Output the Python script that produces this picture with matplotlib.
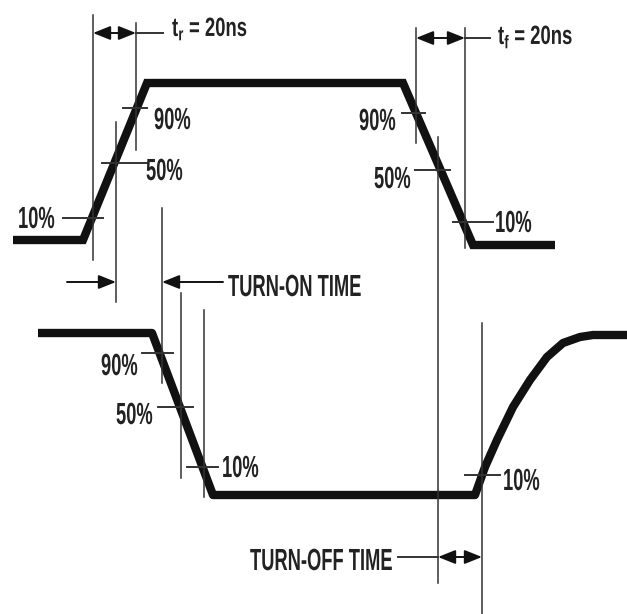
import matplotlib.pyplot as plt
from matplotlib import patheffects
from matplotlib.transforms import Affine2D

# Pixel-space coordinates (y grows downward)
W, H = 627, 614

# waveforms
in_x = [13, 83, 147, 403, 473, 555]
in_y = [240, 240, 83, 83, 245, 245]
out_x = [38, 152, 213, 475, 485, 497, 513, 530, 547, 563, 580, 593, 627]
out_y = [333, 333, 495, 495, 467, 440, 407, 380, 357, 343, 337, 335, 335]

# threshold ticks: (x0, x1, y)
ticks = [
    (63, 103, 218), (123, 147, 108), (102, 147, 163),
    (402, 425, 113), (415, 450, 170), (453, 493, 222),
    (142, 173, 353), (158, 193, 407), (187, 218, 467),
    (465, 500, 475),
]
# percentage labels: (left x, baseline y, text)
labels = [
    (18, 228, "10%"), (154, 129, "90%"), (146, 180, "50%"),
    (359, 130, "90%"), (374, 188, "50%"), (495, 232, "10%"),
    (101, 375, "90%"), (116, 424, "50%"), (222, 477, "10%"),
    (503, 490, "10%"),
]
# thin vertical markers: (x, y0, y1)
vlines = [
    (93, 15, 260), (136, 23, 150), (116, 122, 302), (162, 208, 383),
    (181, 293, 478), (204, 310, 497),
    (416, 28, 143), (465, 28, 248), (438, 137, 583), (482, 323, 614),
]


class Condense(patheffects.AbstractPathEffect):
    """Squeeze glyphs horizontally (narrow bold look of the original)."""

    def __init__(self, sx):
        super().__init__()
        self.sx = sx

    def draw_path(self, renderer, gc, tpath, affine, rgbFace=None):
        renderer.draw_path(gc, tpath, Affine2D().scale(self.sx, 1.0) + affine, rgbFace)


plt.rcParams["font.family"] = ["Liberation Sans", "DejaVu Sans"]

fig = plt.figure(figsize=(6.27, 6.14), dpi=100)
ax = fig.add_axes([0, 0, 1, 1])
ax.set_xlim(0, W)
ax.set_ylim(H, 0)
ax.axis("off")

ink = "#111111"
thin = "#333333"
ax.plot(in_x, in_y, color=ink, lw=6, solid_joinstyle="miter", solid_capstyle="butt")
ax.plot(out_x, out_y, color=ink, lw=6, solid_joinstyle="round", solid_capstyle="butt")

for x, y0, y1 in vlines:
    ax.plot([x, x], [y0, y1], color=thin, lw=1.1)
for x0, x1, y in ticks:
    ax.plot([x0, x1], [y, y], color=thin, lw=1.4)

txt = dict(color="#222222", fontsize=22, fontweight="bold", ha="left", va="baseline",
           path_effects=[Condense(0.6)])
small = dict(txt, fontsize=19, path_effects=[Condense(0.7)])
for x, y, s in labels:
    ax.text(x, y, s, **txt)

arrow = dict(arrowstyle="<|-|>,head_length=0.75,head_width=0.3", color=ink, lw=1.4,
             mutation_scale=14, shrinkA=0, shrinkB=0)
one = dict(arrowstyle="-|>,head_length=0.75,head_width=0.3", color=ink, lw=1.4,
           mutation_scale=14, shrinkA=0, shrinkB=0)

# rise time
ax.annotate("", xy=(136, 33), xytext=(93, 33), arrowprops=arrow)
ax.plot([136, 163], [33, 33], color=thin, lw=1.4)
ax.text(172, 36, r"t$_\mathregular{r}$ = 20ns", **small)

# fall time
ax.annotate("", xy=(465, 38), xytext=(416, 38), arrowprops=arrow)
ax.plot([465, 490], [38, 38], color=thin, lw=1.4)
ax.text(498, 44, r"t$_\mathregular{f}$ = 20ns", **small)

# turn-on time
ax.annotate("", xy=(116, 282), xytext=(67, 282), arrowprops=one)
ax.annotate("", xy=(162, 282), xytext=(223, 282), arrowprops=one)
ax.text(228, 296, "TURN-ON TIME", **txt)

# turn-off time
ax.annotate("", xy=(482, 557), xytext=(438, 557), arrowprops=arrow)
ax.plot([398, 438], [557, 557], color=thin, lw=1.4)
ax.text(250, 570, "TURN-OFF TIME", **txt)

fig.savefig("out.png", dpi=100)
